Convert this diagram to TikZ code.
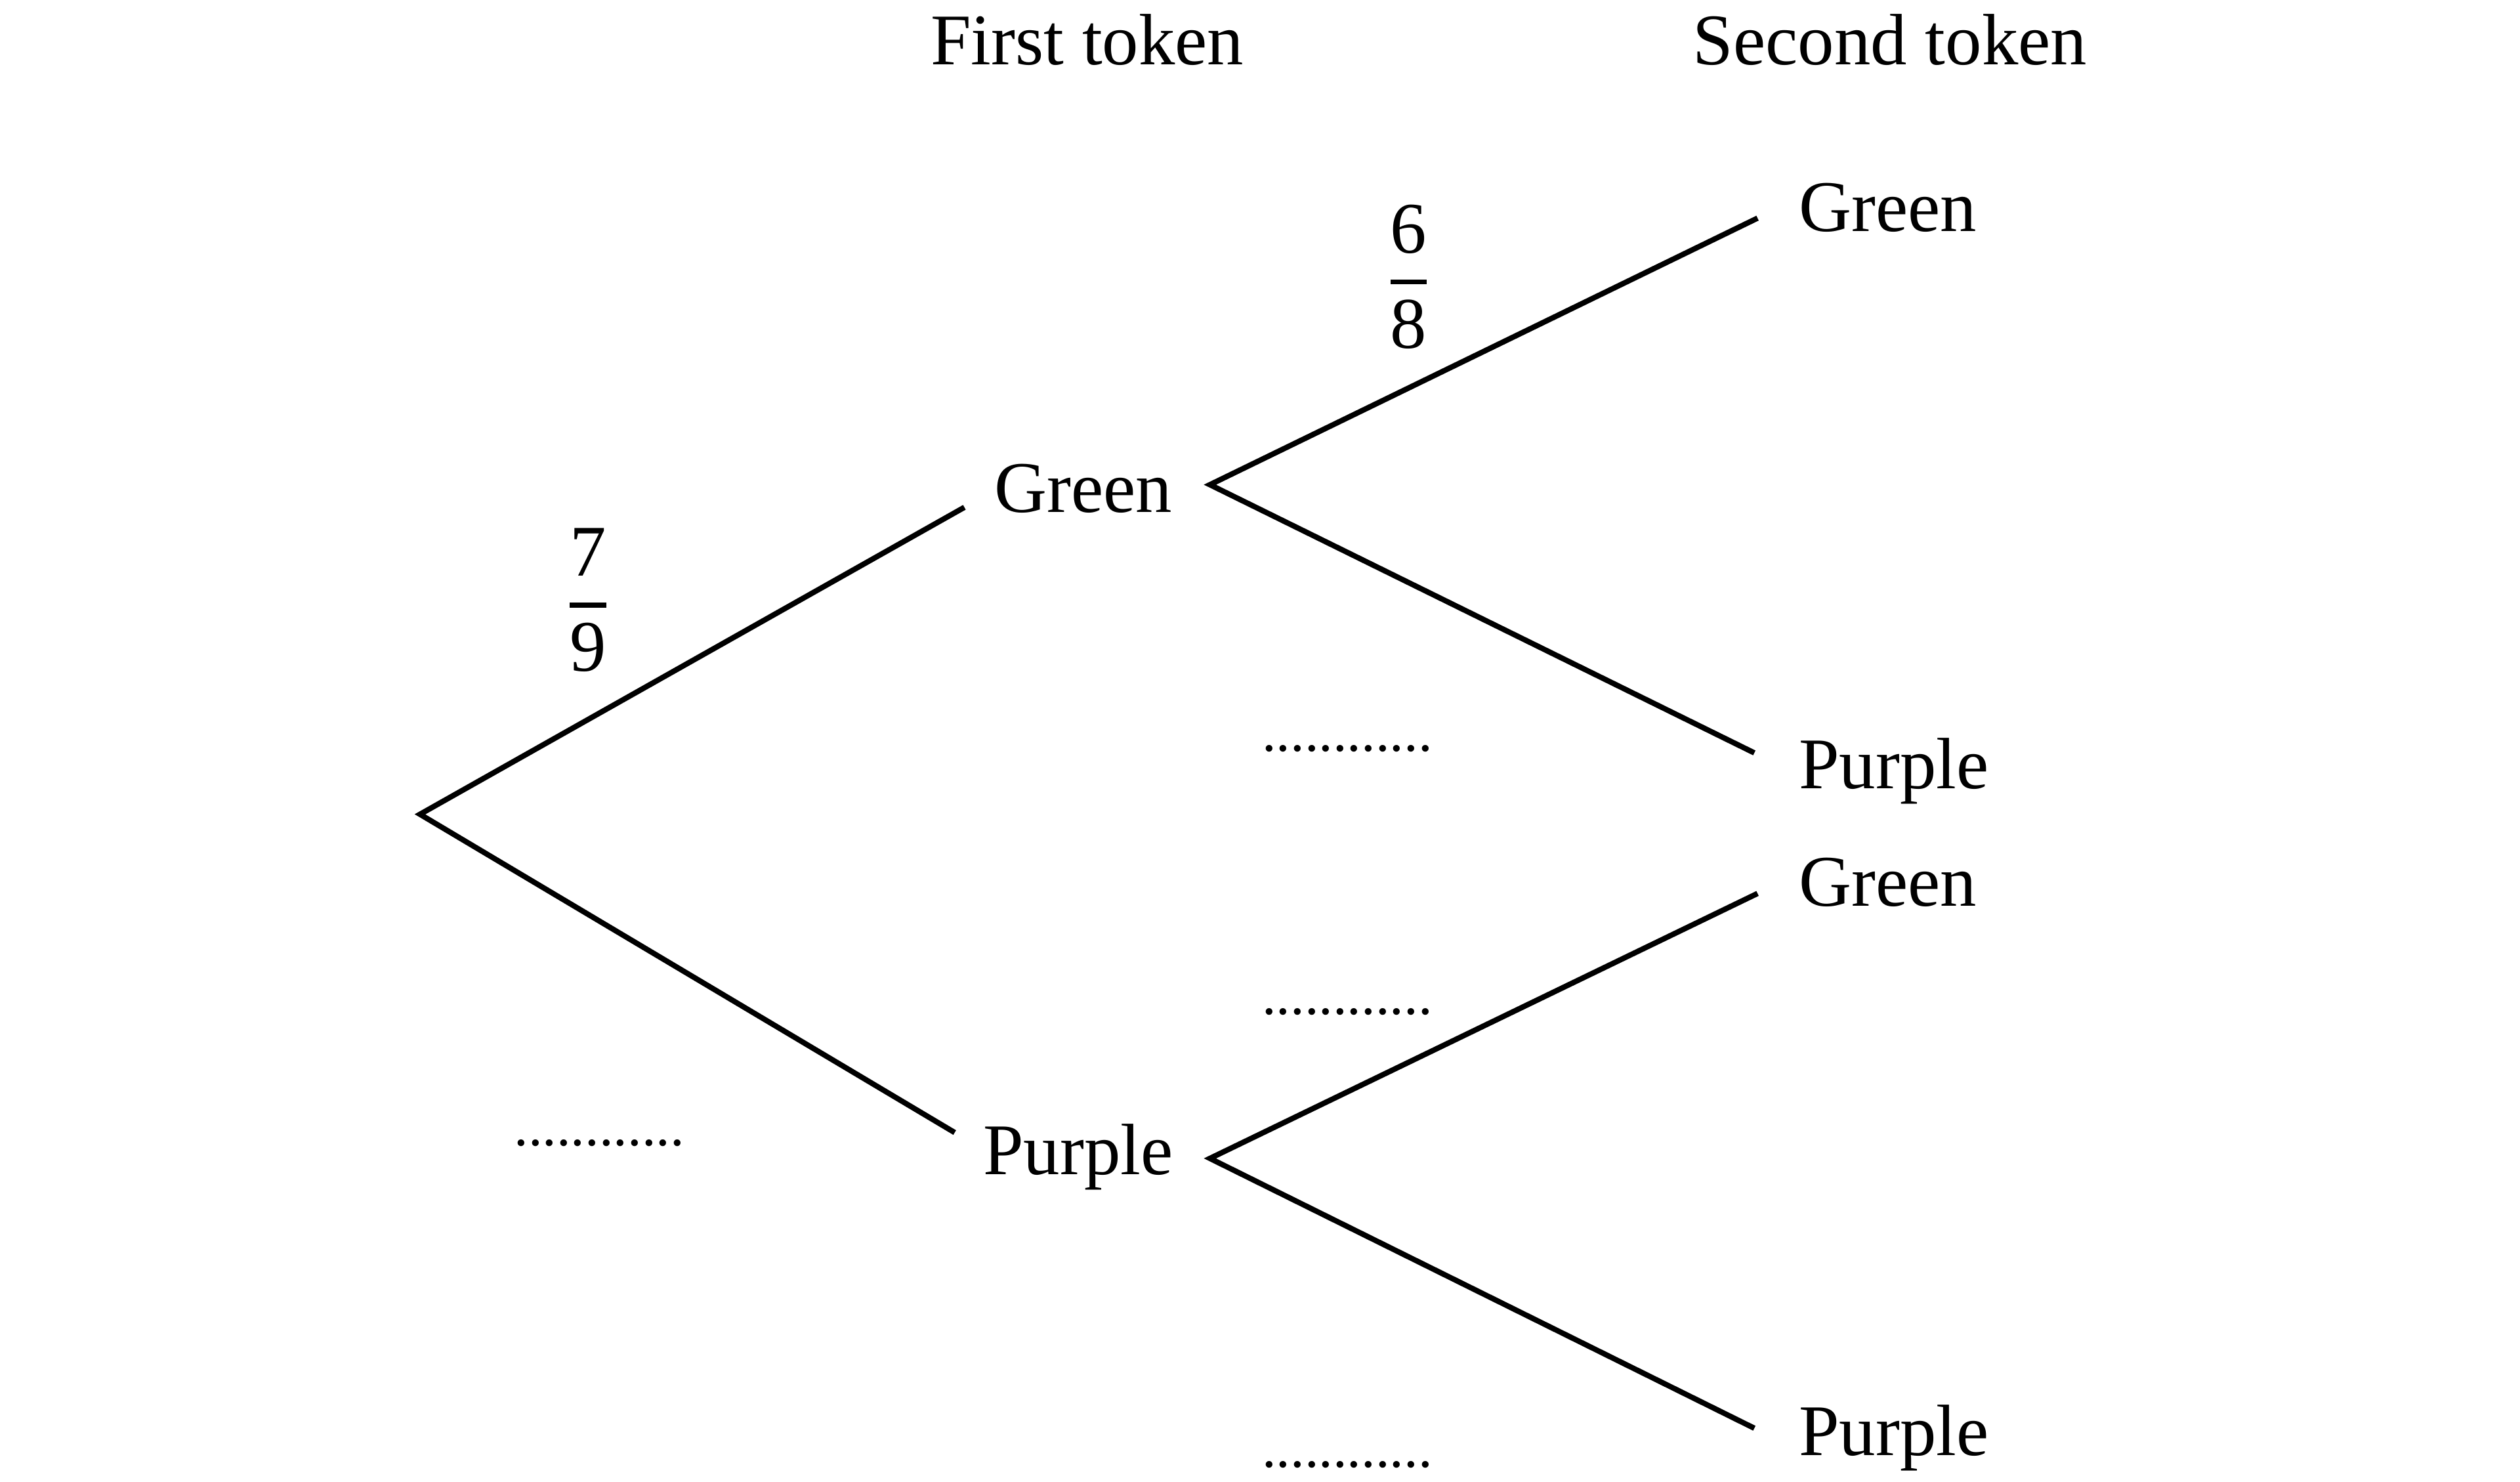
\documentclass[tikz,border=0pt]{standalone}
\usepackage{amsmath}
\usepackage{fontspec}
\setmainfont{Liberation Serif}
\usetikzlibrary{positioning,calc}

\begin{document}
\begin{tikzpicture}[x=0.01cm,y=-0.01cm,line width=0.95pt]
\tikzstyle{branch}=[draw=black]
\tikzstyle{outcome}=[inner sep=0pt,anchor=base west,font=\fontsize{12.8}{15}\selectfont]
\tikzstyle{heading}=[inner sep=0pt,anchor=base,font=\fontsize{12.8}{15}\selectfont]
\tikzstyle{prob}=[inner sep=0pt,anchor=base,font=\fontsize{12.8}{15}\selectfont]
\tikzstyle{blank}=[inner sep=0pt,anchor=base,font=\fontsize{10}{12}\selectfont]

\newcommand{\pfrac}[2]{$\displaystyle\genfrac{}{}{0.9pt}{}{\text{#1}}{\text{#2}}$}

\useasboundingbox (0,0) rectangle (1560,917);

% headings
\node[heading] (first) at (673,40) {First token};
\node[heading] (second) at (1170,40) {Second token};

% first token
\coordinate (root) at (260,504);
\coordinate (gEnd) at (597,314);
\coordinate (pEnd) at (591,701);
\node[outcome] (green) at (614,317) {Green};
\node[outcome] (purple) at (607,727) {Purple};
\draw[branch] (gEnd) -- (root) -- (pEnd);

% second token
\coordinate (gRoot) at (749,300);
\coordinate (pRoot) at (749,717);
\coordinate (ggEnd) at (1088,135);
\coordinate (gpEnd) at (1086,466);
\coordinate (pgEnd) at (1088,553);
\coordinate (ppEnd) at (1086,884);

\foreach \n/\t/\y in {gg/Green/143, gp/Purple/488, pg/Green/561, pp/Purple/901}
    \node[outcome] (\n) at (1112,\y) {\t};

\draw[branch] (ggEnd) -- (gRoot) -- (gpEnd);
\draw[branch] (pgEnd) -- (pRoot) -- (ppEnd);

% probabilities
\node[prob] (probG) at (364,385) {\pfrac{7}{9}};
\node[prob] (probGG) at (872,185) {\pfrac{6}{8}};

\foreach \n/\x/\y in {probP/371/709, probGP/834/465, probPG/834/628, probPP/834/908}
    \node[blank] (\n) at (\x,\y) {............};
\end{tikzpicture}
\end{document}
